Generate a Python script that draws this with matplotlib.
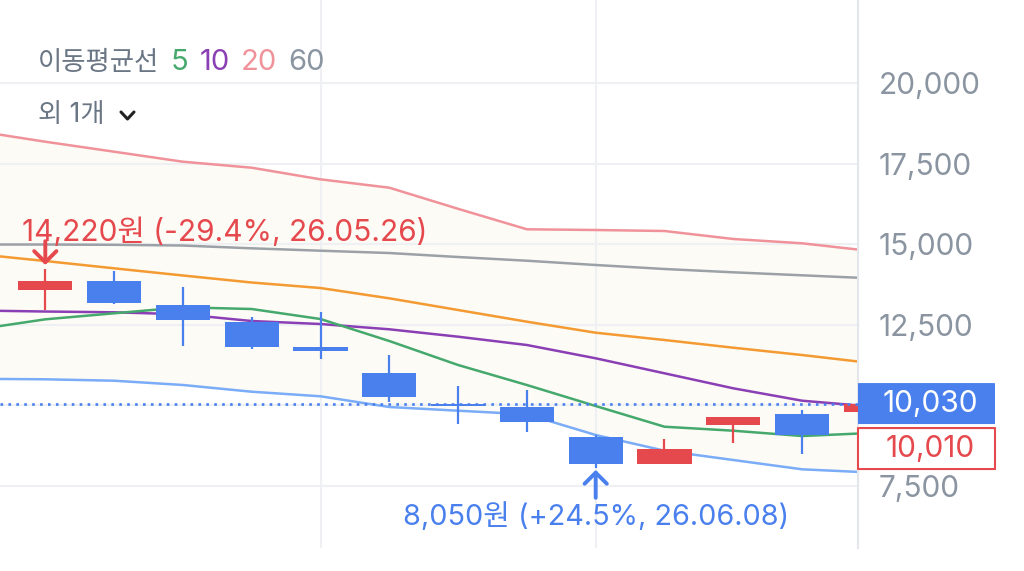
import numpy as np
import matplotlib
matplotlib.use('Agg')
import matplotlib.pyplot as plt
from matplotlib.patches import FancyBboxPatch
from matplotlib.lines import Line2D

plt.rcParams['font.family'] = ['Inter', 'Noto Sans CJK KR', 'DejaVu Sans']

# candles (index 0..12)
opens  = [13572, 13852, 13106, 12569, 11811, 11003, 10031, 9938, 9006, 8158, 9388, 9721, 9780]
closes = [13852, 13178, 12640, 11802, 11668, 10258, 9969, 9472, 8177, 8643, 9628, 9069, 10030]
highs  = [14220, 14163, 13656, 12743, 12889, 11563, 10590, 10466, 9059, 8944, 9628, 9836, 10030]
lows   = [12951, 13153, 11842, 11730, 11420, 10093, 9401, 9152, 8050, 8158, 8820, 8478, 9780]

# indicator lines (index -1..12)
ma5   = [12345, 12662, 12849, 13035, 12982, 12671, 11988, 11243, 10621, 9969, 9326, 9202, 9037, 9131]
ma10  = [12936, 12904, 12880, 12818, 12609, 12516, 12352, 12122, 11864, 11451, 10985, 10519, 10134, 9954]
ma60  = [14985, 14985, 14976, 14954, 14867, 14793, 14721, 14597, 14482, 14349, 14225, 14122, 14029, 13936]
b_mid = [14690, 14473, 14246, 14023, 13805, 13634, 13314, 12951, 12588, 12246, 12019, 11780, 11553, 11305]
b_up  = [18511, 18178, 17868, 17557, 17371, 17010, 16750, 16094, 15458, 15436, 15405, 15157, 15023, 14784]
b_low = [10814, 10799, 10755, 10622, 10413, 10271, 9938, 9823, 9711, 9069, 8581, 8292, 8003, 7904]

yticks = [7500, 10000, 12500, 15000, 17500, 20000]
cur_price = 10030
ref_price = 10010
max_i, max_label = 0, '14,220원 (-29.4%, 26.05.26)'
min_i, min_label = 8, '8,050원 (+24.5%, 26.06.08)'

RED = '#e5484d'
BLUE = '#4a80ee'
GRAY_TXT = '#8b95a1'
KR = ['Noto Sans CJK KR', 'DejaVu Sans']

fig = plt.figure(figsize=(10.24, 5.71), dpi=100)
ax = fig.add_axes([0, 23 / 571, 858 / 1024, 548 / 571])
ax.set_facecolor('white')

xc = np.arange(len(opens))
xl = np.arange(-1, len(opens))

ax.fill_between(xl, b_low, b_up, color='#fdfbf5', zorder=0, lw=0)
ax.plot(xl, b_up, color='#f0929a', lw=1.8, zorder=2)
ax.plot(xl, b_low, color='#7aacf8', lw=1.8, zorder=2)
ax.plot(xl, ma60, color='#9ca1a8', lw=1.8, zorder=2)
ax.plot(xl, b_mid, color='#f49a32', lw=1.8, zorder=2)
ax.plot(xl, ma10, color='#8b3fb5', lw=1.8, zorder=2)
ax.plot(xl, ma5, color='#45a86c', lw=1.8, zorder=2)

for i in xc:
    c = RED if closes[i] >= opens[i] else BLUE
    ax.vlines(i, lows[i], highs[i], color=c, lw=1.6, zorder=3)
    lo, hi = min(opens[i], closes[i]), max(opens[i], closes[i])
    ax.bar(i, max(hi - lo, 60), bottom=lo, width=0.79, color=c, zorder=4)

ax.axhline(cur_price, color=BLUE, lw=1.9, ls=(0, (1, 2)), zorder=5)

ax.set_xlim(-45.3 / 68.8, (858 - 45.3) / 68.8)
ax.set_ylim(5559, 22580)

ax.set_yticks(yticks)
ax.set_yticklabels(['' if v == 10000 else f'{v:,}' for v in yticks])
ax.yaxis.tick_right()
ax.tick_params(axis='y', length=0, pad=15, labelsize=21.5, labelcolor=GRAY_TXT)
ax.set_xticks([4, 8])
ax.tick_params(axis='x', length=0, labelbottom=False)
ax.grid(True, color='#eef0f3', lw=1.5, zorder=1)
ax.set_axisbelow(True)
for s in ['top', 'left', 'bottom']:
    ax.spines[s].set_visible(False)
ax.spines['right'].set_color('#e3e6ea')
ax.spines['right'].set_linewidth(1.5)

# max / min markers
arrow = '->,head_length=0.8,head_width=0.8'
ax.annotate('', xy=(max_i, highs[max_i]), xytext=(0, 28), textcoords='offset pixels',
            arrowprops=dict(arrowstyle=arrow, color=RED, lw=2.8, shrinkA=0, shrinkB=3,
                            capstyle='round', joinstyle='round'), zorder=6)
ax.annotate(max_label, xy=(max_i, highs[max_i]), xytext=(-23, 37), textcoords='offset pixels',
            ha='left', va='center', fontsize=21.5, color=RED, zorder=6)
ax.annotate('', xy=(min_i, lows[min_i]), xytext=(0, -30), textcoords='offset pixels',
            arrowprops=dict(arrowstyle=arrow, color=BLUE, lw=2.8, shrinkA=0, shrinkB=1.5,
                            capstyle='round', joinstyle='round'), zorder=6)
ax.annotate(min_label, xy=(min_i, lows[min_i]), xytext=(0, -49), textcoords='offset pixels',
            ha='center', va='center', fontsize=20.8, color=BLUE, zorder=6)

# price boxes on the right
trans = ax.get_yaxis_transform()
px = 31.056
bw = 137 / 858
bh = 41 * px
cy1 = cur_price + 0.5 * px
cy2 = cy1 - 45 * px
ax.add_patch(FancyBboxPatch((1.0, cy1 - bh / 2), bw, bh, boxstyle='round,pad=0,rounding_size=0.006',
                            transform=trans, clip_on=False, fc=BLUE, ec='none', zorder=7,
                            mutation_aspect=bh / 0.006 / 380))
ax.text(1.0 + bw * 0.53, cy1, f'{cur_price:,}', transform=trans, ha='center', va='center',
        fontsize=21.5, color='white', zorder=8, clip_on=False)
ax.add_patch(FancyBboxPatch((1.0, cy2 - bh / 2), bw, bh, boxstyle='round,pad=0,rounding_size=0.006',
                            transform=trans, clip_on=False, fc='white', ec=RED, lw=1.5, zorder=7,
                            mutation_aspect=bh / 0.006 / 380))
ax.text(1.0 + bw * 0.53, cy2, f'{ref_price:,}', transform=trans, ha='center', va='center',
        fontsize=21.5, color=RED, zorder=8, clip_on=False)

# legend header
t = fig.text(38 / 1024, 1 - 63 / 571, '이동평균선', fontsize=19, color='#6b7684', va='center',
             family=KR)
for s, c in [('5', '#45a86c'), ('10', '#8b3fb5'), ('20', '#f0929a'), ('60', '#8b95a1')]:
    t = ax.annotate(s, xy=(1, 0.5), xycoords=t, xytext=(8, 0), textcoords='offset points',
                    fontsize=21, color=c, va='center', ha='left', annotation_clip=False)
fig.text(38 / 1024, 1 - 115 / 571, '외 1개', fontsize=19, color='#6b7684', va='center')
fig.add_artist(Line2D([121 / 1024, 127.5 / 1024, 134 / 1024],
                      [1 - 112 / 571, 1 - 119 / 571, 1 - 112 / 571],
                      color='#222222', lw=2.2, solid_capstyle='round', solid_joinstyle='round'))

fig.savefig('out.png', dpi=100, facecolor='white')
